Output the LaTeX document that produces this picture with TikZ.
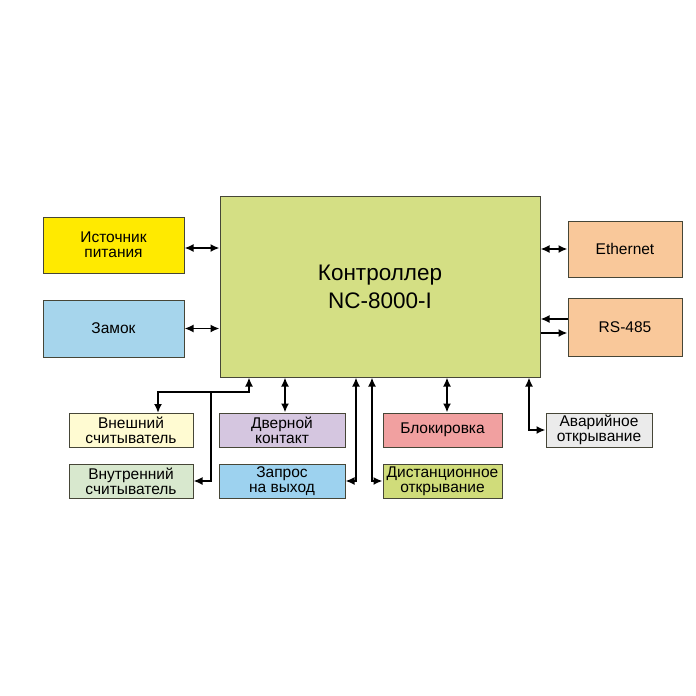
\documentclass[tikz,border=0pt]{standalone}
\usepackage{fontspec}
\setmainfont{Liberation Sans}
\usetikzlibrary{arrows.meta}
\definecolor{ctrlgreen}{RGB}{212,223,132}
\definecolor{psuyellow}{RGB}{255,234,0}
\definecolor{lockblue}{RGB}{166,213,236}
\definecolor{netorange}{RGB}{249,200,154}
\definecolor{extyellow}{RGB}{255,251,210}
\definecolor{intgreen}{RGB}{216,232,206}
\definecolor{doorlilac}{RGB}{213,198,224}
\definecolor{reqblue}{RGB}{157,210,239}
\definecolor{blocksalmon}{RGB}{241,160,160}
\definecolor{distgreen}{RGB}{208,220,122}
\definecolor{emgray}{RGB}{235,235,235}
\definecolor{edgegray}{RGB}{70,70,55}
\begin{document}
\begin{tikzpicture}[x=1pt,y=-1pt,
  box/.style={draw=edgegray,line width=1pt,align=center,inner sep=1pt,font=\fontsize{15.5}{15}\selectfont},
  conn/.style={line width=1.8pt,{Latex[length=9pt,width=8pt]}-{Latex[length=9pt,width=8pt]}},
  connto/.style={line width=1.8pt,-{Latex[length=9pt,width=8pt]}}]
  \useasboundingbox (0,0) rectangle (696,696);

  \node[box,fill=ctrlgreen,minimum width=320pt,minimum height=181pt,font=\fontsize{22.5}{28}\selectfont] at (380,286.5) (main) {Контроллер\\NC-8000-I};

  \node[box,fill=psuyellow,minimum width=141pt,minimum height=56pt] at (113.5,245) (psu) {Источник\\питания};
  \node[box,fill=lockblue,minimum width=141pt,minimum height=57pt] at (113.5,328.5) (lock) {Замок};

  \node[box,fill=netorange,minimum width=114pt,minimum height=56pt] at (625,249) (eth) {Ethernet};
  \node[box,fill=netorange,minimum width=114pt,minimum height=58pt] at (625,327) (rs) {RS-485};

  \node[box,fill=extyellow,minimum width=124pt,minimum height=34pt] at (131,430) (extrd) {Внешний\\считыватель};
  \node[box,fill=intgreen,minimum width=124pt,minimum height=34pt] at (131,481) (intrd) {Внутренний\\считыватель};
  \node[box,fill=doorlilac,minimum width=126pt,minimum height=34pt] at (282,430) (door) {Дверной\\контакт};
  \node[box,fill=reqblue,minimum width=126pt,minimum height=34pt] at (282,481) (req) {Запрос\\на выход};
  \node[box,fill=blocksalmon,minimum width=119pt,minimum height=34pt] at (442.5,430) (block) {Блокировка};
  \node[box,fill=distgreen,minimum width=119pt,minimum height=34pt] at (442.5,481) (dist) {Дистанционное\\открывание};
  \node[box,fill=emgray,minimum width=106pt,minimum height=34pt] at (599,430) (emerg) {Аварийное\\открывание};

  % side links
  \draw[conn] (psu.east |- 0,248) -- (main.west |- 0,248);
  \draw[conn] (lock.east) -- (lock.east -| main.west);
  \draw[conn] (eth.east -| main.east) -- (eth.west);
  \draw[connto] ([yshift=8pt]rs.west) -- ([yshift=8pt]rs.west -| main.east);
  \draw[connto] ([yshift=-6pt]rs.west -| main.east) -- ([yshift=-6pt]rs.west);

  % readers
  \coordinate (rd) at (249,392);
  \coordinate (rdleft) at (158,413);
  \coordinate (rdmid) at (211,392);
  \draw[conn] (main.south -| rd) -- (rd) -| (rdleft);
  \draw[connto] (rdmid) |- (intrd.east);

  % bottom links
  \draw[conn] (main.south -| 285,0) -- (door.north -| 285,0);
  \draw[conn] (main.south -| 356,0) |- (req.east);
  \draw[conn] (main.south -| 372,0) |- (dist.west);
  \draw[conn] (main.south -| 447,0) -- (block.north -| 447,0);
  \draw[conn] (main.south -| 529,0) |- (emerg.west);
\end{tikzpicture}
\end{document}
